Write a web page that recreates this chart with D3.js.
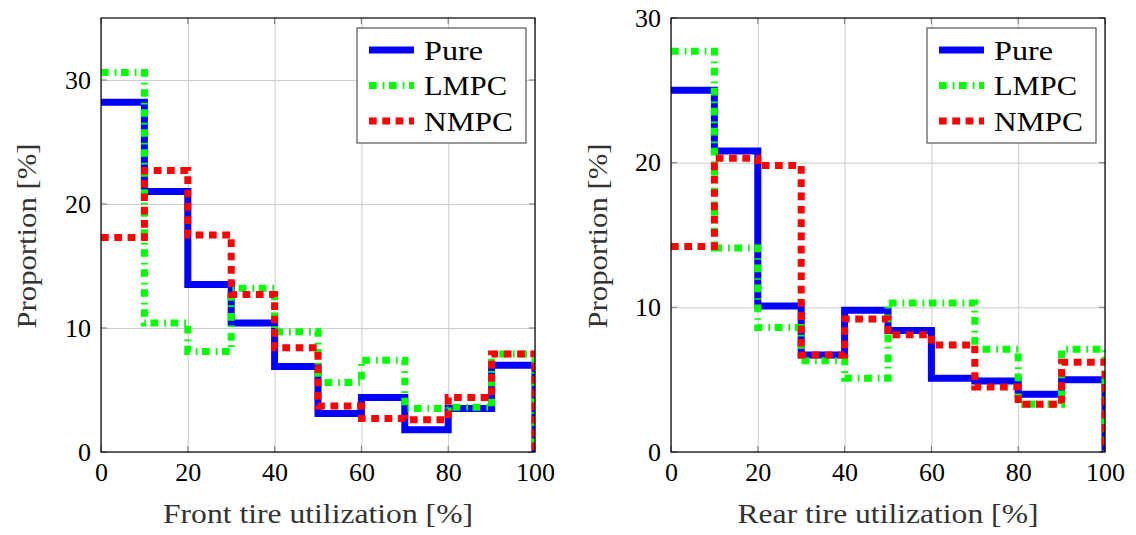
<!DOCTYPE html>
<html><head><meta charset="utf-8">
<script src="https://cdn.jsdelivr.net/npm/d3@7"></script>
<style>body{margin:0;background:#fff}svg{display:block}</style>
</head><body><svg id="c" width="1136" height="535"></svg>
<script>
const bins = [0,10,20,30,40,50,60,70,80,90];
const seriesNames = ["Pure","LMPC","NMPC"];
const frontPure = [28.2,21.0,13.5,10.4,6.9,3.1,4.4,1.8,3.5,7.0];
const frontLMPC = [30.6,10.4,8.1,13.2,9.7,5.6,7.4,3.5,3.6,7.9];
const frontNMPC = [17.3,22.7,17.5,12.7,8.4,3.7,2.7,2.6,4.4,7.9];
const rearPure = [25.0,20.8,10.1,6.7,9.8,8.4,5.1,4.9,4.0,5.0];
const rearLMPC = [27.7,14.1,8.6,6.3,5.1,10.3,10.3,7.1,3.3,7.1];
const rearNMPC = [14.2,20.3,19.8,6.7,9.2,8.1,7.4,4.5,3.3,6.2];
const xTicks = [0,20,40,60,80,100];
const frontYTicks = [0,10,20,30];
const rearYTicks = [0,10,20,30];

const FONT = "'Liberation Serif', 'Times New Roman', serif";
const styles = {
  Pure:{color:"#0000ff",dash:null,len:59},
  LMPC:{color:"#00ff00",dash:"7.7,6,1.7,4.6",len:83},
  NMPC:{color:"#ff0000",dash:"7.7,5.6",len:89}
};

const svg = d3.select("#c");

function panel(id, left, right, top, bottom, yMax, yTicks, data, xTitle, xTitleLen, yTitleX){
  const x = d3.scaleLinear().domain([0,100]).range([left,right]);
  const y = d3.scaleLinear().domain([0,yMax]).range([bottom,top]);
  const g = svg.append("g");
  g.append("clipPath").attr("id",id).append("rect")
    .attr("x",left).attr("y",top).attr("width",right-left).attr("height",bottom-top);
  g.append("g").attr("transform",`translate(0,${bottom})`)
    .call(d3.axisBottom(x).tickValues(xTicks).tickSize(-(bottom-top)).tickFormat(""))
    .call(s=>{s.select(".domain").remove();s.selectAll("line").attr("stroke","#cccccc");});
  g.append("g").attr("transform",`translate(${left},0)`)
    .call(d3.axisLeft(y).tickValues(yTicks).tickSize(-(right-left)).tickFormat(""))
    .call(s=>{s.select(".domain").remove();s.selectAll("line").attr("stroke","#cccccc");});
  const tk = g.append("g").attr("stroke","#888").attr("stroke-width",1.2);
  xTicks.forEach(v=>{
    tk.append("line").attr("x1",x(v)).attr("x2",x(v)).attr("y1",bottom).attr("y2",bottom-6);
    tk.append("line").attr("x1",x(v)).attr("x2",x(v)).attr("y1",top).attr("y2",top+6);
  });
  yTicks.forEach(v=>{
    tk.append("line").attr("x1",left).attr("x2",left+6).attr("y1",y(v)).attr("y2",y(v));
    tk.append("line").attr("x1",right).attr("x2",right-6).attr("y1",y(v)).attr("y2",y(v));
  });
  const line = d3.line().x(d=>x(d[0])).y(d=>y(d[1])).curve(d3.curveStepAfter);
  const lg = g.append("g").attr("clip-path",`url(#${id})`);
  seriesNames.forEach((n,i)=>{
    const pts = bins.map((b,j)=>[b,data[i][j]]).concat([[100,0]]);
    lg.append("path").attr("d",line(pts)).attr("fill","none")
      .attr("stroke",styles[n].color).attr("stroke-width",7)
      .attr("stroke-dasharray",styles[n].dash).attr("stroke-linecap","butt")
      .attr("stroke-linejoin","miter");
  });
  g.append("rect").attr("x",left).attr("y",top).attr("width",right-left).attr("height",bottom-top)
    .attr("fill","none").attr("stroke","#000").attr("stroke-width",1.2);
  g.append("g").attr("transform",`translate(0,${bottom})`)
    .call(d3.axisBottom(x).tickValues(xTicks).tickSize(0).tickPadding(10))
    .call(s=>{s.select(".domain").remove();s.attr("font-family",null).attr("font-size",null);
      s.selectAll("text").style("font-family",FONT).style("font-size","26px").attr("fill","#000").attr("dy","0.72em");});
  g.append("g").attr("transform",`translate(${left},0)`)
    .call(d3.axisLeft(y).tickValues(yTicks).tickSize(0).tickPadding(10))
    .call(s=>{s.select(".domain").remove();s.attr("font-family",null).attr("font-size",null);
      s.selectAll("text").style("font-family",FONT).style("font-size","26px").attr("fill","#000");});
  g.append("text").attr("x",(left+right)/2).attr("y",523).attr("text-anchor","middle")
    .attr("textLength",xTitleLen).attr("lengthAdjust","spacingAndGlyphs")
    .style("font-family",FONT).style("font-size","27px").attr("fill","#333").text(xTitle);
  g.append("text").attr("transform",`translate(${yTitleX},${(top+bottom)/2+1}) rotate(-90)`)
    .attr("text-anchor","middle").attr("textLength",185).attr("lengthAdjust","spacingAndGlyphs")
    .style("font-family",FONT).style("font-size","27px").attr("fill","#333").text("Proportion [%]");
  const lx = right-178, ly = top+10;
  const leg = g.append("g");
  leg.append("rect").attr("x",lx).attr("y",ly).attr("width",169).attr("height",115)
    .attr("fill","#fff").attr("stroke","#555").attr("stroke-width",1.2);
  seriesNames.forEach((n,i)=>{
    const yy = ly+22+i*35.5;
    leg.append("line").attr("x1",lx+12).attr("x2",lx+57).attr("y1",yy).attr("y2",yy)
      .attr("stroke",styles[n].color).attr("stroke-width",7).attr("stroke-dasharray",styles[n].dash);
    leg.append("text").attr("x",lx+67).attr("y",yy+9.5)
      .attr("textLength",styles[n].len).attr("lengthAdjust","spacingAndGlyphs")
      .style("font-family",FONT).style("font-size","27px").attr("fill","#000").text(n);
  });
}

panel("clipL",101,535,18,452,35,frontYTicks,[frontPure,frontLMPC,frontNMPC],"Front tire utilization [%]",310,36);
panel("clipR",671,1105,18,452,30,rearYTicks,[rearPure,rearLMPC,rearNMPC],"Rear tire utilization [%]",301,607);
</script></body></html>
